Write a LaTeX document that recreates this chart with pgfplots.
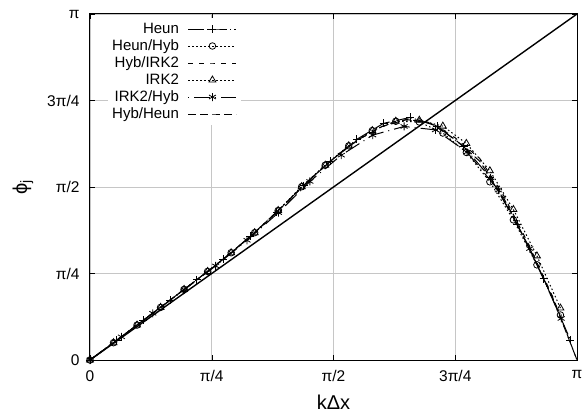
\documentclass[border=0pt]{standalone}
\usepackage{fontspec}
\setmainfont{Liberation Sans}
\usepackage{pgfplots}
\pgfplotsset{compat=1.18}
\begin{document}
\begin{tikzpicture}
\useasboundingbox (-90pt,-57pt) rectangle (495pt,360pt);
\begin{axis}[
  scale only axis, width=487pt, height=346pt,
  xmin=0, xmax=1, ymin=0, ymax=1,
  xtick={0,0.25,0.5,0.75,1}, xticklabels={0,π/4,π/2,3π/4,π},
  ytick={0,0.25,0.5,0.75,1}, yticklabels={0,π/4,π/2,3π/4,π},
  grid=major, grid style={gray!45, line width=0.6pt},
  tick align=inside, major tick length=5pt,
  tick style={black, line width=0.5pt},
  axis line style={line width=1pt},
  ticklabel style={font=\fontsize{15.5}{17}\selectfont},
  x tick label style={yshift=-7pt},
  y tick label style={xshift=-7pt},
  xlabel={kΔx}, ylabel={ϕ\textsubscript{j}},
  label style={font=\fontsize{20}{24}\selectfont},
  xlabel style={at={([yshift=-42pt]axis description cs:0.5,0)}, anchor=center},
  ylabel style={at={([xshift=-67pt]axis description cs:0,0.5)}, anchor=center},
  legend plot pos=right,
  legend cell align=right,
  legend image code/.code={\draw[mark repeat=2,mark phase=2,#1] plot coordinates {(0pt,0pt) (24pt,0pt) (48pt,0pt)};},
  legend style={at={(rel axis cs:0.037,0.989)}, anchor=north west, draw=none, fill=white,
    font=\fontsize{15}{17}\selectfont, inner sep=4pt, column sep=9pt, row sep=3pt,
    nodes={inner sep=0pt, text height=11pt, text depth=3pt}},
  every axis plot/.append style={line width=1pt, mark options={solid, line width=0.8pt}},
]
\addplot[black, line width=1.4pt, forget plot] coordinates {(0,0) (1,1)};

% Heun
\addplot[black, dash pattern=on 16pt off 3pt on 1pt off 3pt, mark=+, mark size=4pt] coordinates {
(0,0) (0.0548,0.057) (0.1096,0.115) (0.1644,0.173) (0.2192,0.232) (0.274,0.292)
(0.3288,0.357) (0.3836,0.428) (0.4384,0.504) (0.4932,0.574) (0.548,0.638)
(0.6028,0.684) (0.6576,0.701) (0.7124,0.676) (0.7672,0.617) (0.822,0.527)
(0.8768,0.393) (0.9316,0.235) (0.9864,0.058)};
\addlegendentry{Heun}

% Heun/Hyb
\addplot[black, dash pattern=on 1.5pt off 2.5pt, mark=o, mark size=3.3pt] coordinates {
(0,0) (0.0483,0.050) (0.0966,0.101) (0.1449,0.152) (0.1932,0.204) (0.2415,0.256)
(0.2898,0.310) (0.3381,0.368) (0.3864,0.432) (0.4347,0.501) (0.483,0.563)
(0.5313,0.619) (0.5796,0.663) (0.6279,0.690) (0.6762,0.688) (0.7245,0.656)
(0.7728,0.600) (0.8211,0.515) (0.8694,0.405) (0.9177,0.275) (0.966,0.130)};
\addlegendentry{Heun/Hyb}

% Hyb/IRK2
\addplot[black, dash pattern=on 5pt off 6pt] coordinates {
(0,0) (0.05,0.052) (0.1,0.105) (0.15,0.158) (0.2,0.211) (0.25,0.265) (0.3,0.322)
(0.35,0.383) (0.4,0.450) (0.45,0.520) (0.5,0.582) (0.55,0.636) (0.6,0.675)
(0.65,0.695) (0.7,0.686) (0.75,0.642) (0.8,0.583) (0.85,0.474) (0.9,0.336)
(0.95,0.183) (1,0)};
\addlegendentry{Hyb/IRK2}

% IRK2
\addplot[black, dash pattern=on 1.5pt off 2.5pt, mark=triangle, mark size=4pt] coordinates {
(0,0) (0.0483,0.050) (0.0966,0.101) (0.1449,0.152) (0.1932,0.204) (0.2415,0.256)
(0.2898,0.310) (0.3381,0.368) (0.3864,0.432) (0.4347,0.501) (0.483,0.563)
(0.5313,0.619) (0.5796,0.663) (0.6279,0.690) (0.6762,0.693) (0.7245,0.676)
(0.7728,0.626) (0.8211,0.547) (0.8694,0.435) (0.9177,0.301) (0.966,0.150)};
\addlegendentry{IRK2}

% IRK2/Hyb
\addplot[black, dash pattern=on 1pt off 5pt on 16pt off 5pt, mark=asterisk, mark size=4pt] coordinates {
(0,0) (0.0645,0.067) (0.129,0.135) (0.1935,0.203) (0.258,0.272) (0.3225,0.346)
(0.387,0.426) (0.4515,0.516) (0.516,0.592) (0.5805,0.650) (0.645,0.675)
(0.7095,0.665) (0.774,0.601) (0.8385,0.491) (0.903,0.322) (0.9675,0.120)};
\addlegendentry{IRK2/Hyb}

% Hyb/Heun
\addplot[black, dash pattern=on 8pt off 4pt] coordinates {
(0,0) (0.05,0.052) (0.1,0.105) (0.15,0.158) (0.2,0.211) (0.25,0.265) (0.3,0.322)
(0.35,0.383) (0.4,0.450) (0.45,0.520) (0.5,0.582) (0.55,0.636) (0.6,0.675)
(0.65,0.695) (0.7,0.684) (0.75,0.637) (0.8,0.575) (0.85,0.467) (0.9,0.330)
(0.95,0.180) (1,0)};
\addlegendentry{Hyb/Heun}
\end{axis}
\end{tikzpicture}
\end{document}
